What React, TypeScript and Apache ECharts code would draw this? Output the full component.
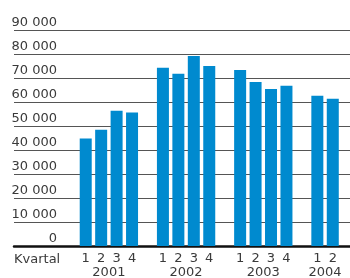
import React, { useEffect, useRef } from "react";
import * as echarts from "echarts";

const years = ["2001", "2002", "2003", "2004"];
const quarterLabels = [
  ["1", "2", "3", "4"],
  ["1", "2", "3", "4"],
  ["1", "2", "3", "4"],
  ["1", "2"],
];
const values = [
  [44900, 48600, 56500, 55800],
  [74400, 71900, 79300, 75200],
  [73500, 68500, 65600, 66900],
  [62700, 61500],
];
const yTicks = [0, 10000, 20000, 30000, 40000, 50000, 60000, 70000, 80000, 90000];
const axisTitle = "Kvartal";

const FONT = "DejaVu Sans";
const TEXT = "#3a3a3a";

export default function App() {
  const ref = useRef<HTMLDivElement>(null);
  useEffect(() => {
    if (!ref.current) return;
    const chart = echarts.init(ref.current, null, { renderer: "svg" });

    const cats: string[] = [];
    const data: (number | string)[] = [];
    const yearPos: number[] = [];
    years.forEach((y, gi) => {
      if (gi > 0) {
        cats.push("");
        data.push("-");
      }
      const start = cats.length;
      quarterLabels[gi].forEach((q, qi) => {
        cats.push(q);
        data.push(values[gi][qi]);
      });
      yearPos.push((start + cats.length - 1) / 2);
    });

    const fmt = (v: number) => String(v).replace(/\B(?=(\d{3})+(?!\d))/g, " ");

    chart.setOption({
      animation: false,
      grid: [
        { left: 14, right: 0, top: 30.5, bottom: 31.5 },
        { left: 78, right: 9.5, top: 30.5, bottom: 31.5 },
      ],
      xAxis: [
        {
          type: "value",
          gridIndex: 0,
          min: 0,
          max: 1,
          axisLine: { show: true, lineStyle: { color: "#111", width: 2.5 } },
          axisTick: { show: false },
          axisLabel: { show: false },
          splitLine: { show: false },
        },
        {
          type: "category",
          gridIndex: 1,
          data: cats,
          axisLine: { show: false },
          axisTick: { show: false },
          axisLabel: {
            interval: 0,
            color: TEXT,
            fontFamily: FONT,
            fontSize: 13,
            margin: 5,
          },
        },
        {
          type: "value",
          gridIndex: 1,
          min: -0.5,
          max: cats.length - 0.5,
          position: "bottom",
          axisLine: { show: false },
          axisTick: { show: false },
          splitLine: { show: false },
          axisLabel: {
            customValues: yearPos,
            formatter: (v: number) => {
              const i = yearPos.findIndex((p) => Math.abs(p - v) < 1e-6);
              return i >= 0 ? years[i] : "";
            },
            color: TEXT,
            fontFamily: FONT,
            fontSize: 13,
            margin: 19,
          },
        },
      ],
      yAxis: [
        {
          type: "value",
          gridIndex: 0,
          min: yTicks[0],
          max: yTicks[yTicks.length - 1],
          interval: yTicks[1] - yTicks[0],
          axisLine: { show: false },
          axisTick: { show: false },
          splitLine: { show: true, lineStyle: { color: "#555", width: 1 } },
          axisLabel: {
            formatter: (v: number) => fmt(v),
            align: "right",
            verticalAlign: "bottom",
            margin: -43,
            color: TEXT,
            fontFamily: FONT,
            fontSize: 13,
            lineHeight: 13,
            padding: [0, 0, 3, 0],
          },
        },
        {
          type: "value",
          gridIndex: 1,
          min: yTicks[0],
          max: yTicks[yTicks.length - 1],
          show: false,
          splitLine: { show: false },
        },
      ],
      graphic: [
        {
          type: "text",
          left: 14,
          top: 252,
          style: { text: axisTitle, fill: TEXT, font: `13px "${FONT}"` },
        },
      ],
      series: [
        {
          type: "bar",
          xAxisIndex: 1,
          yAxisIndex: 1,
          data,
          barWidth: 12,
          itemStyle: { color: "#008acf" },
        },
      ],
    });
    return () => chart.dispose();
  }, []);
  return <div ref={ref} style={{ position: "fixed", left: 0, top: 0, width: 350, height: 278 }} />;
}
